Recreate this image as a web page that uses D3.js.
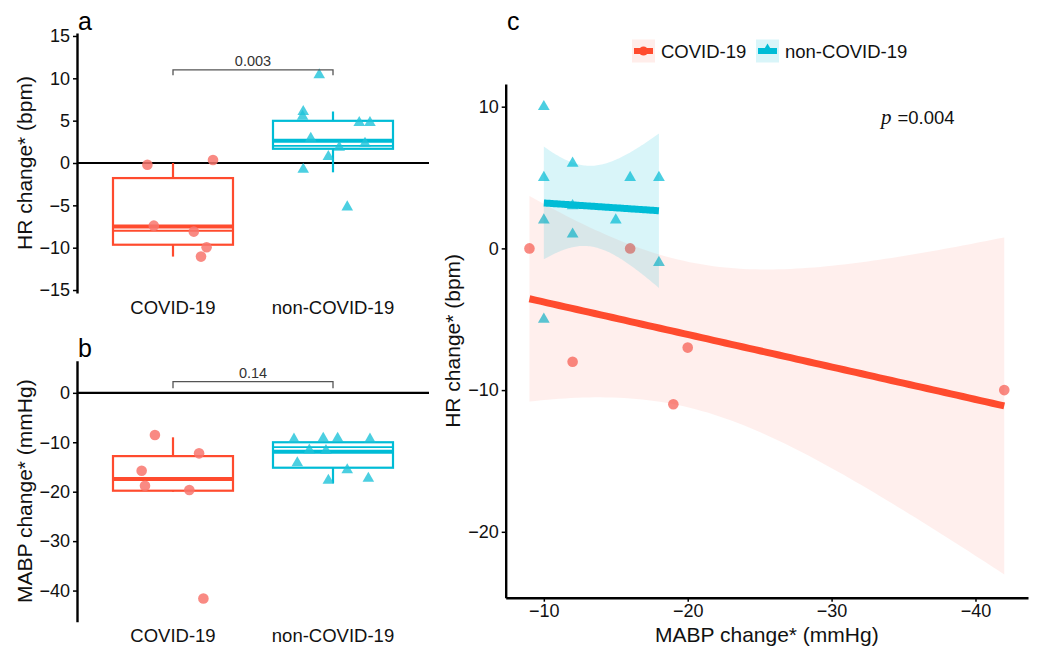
<!DOCTYPE html>
<html><head><meta charset="utf-8">
<script src="https://cdn.jsdelivr.net/npm/d3@7"></script>
<style>
body{margin:0;background:#fff;}
svg{display:block;font-family:"Liberation Sans",Arial,Helvetica,sans-serif;}
</style></head>
<body>
<svg id="chart" width="1038" height="648"></svg>
<script>
// ---------- DATA ----------
const groups = ["COVID-19", "non-COVID-19"];
// Panel a: HR change, jittered points (x offset within group, y value)
const hrCovidJit = [-0.16, 0.25, -0.12, 0.13, 0.21, 0.175];
const hrCovidVal = [-0.2, 0.35, -7.4, -8.1, -9.95, -11.05];
const hrNonJit = [-0.086, -0.186, -0.19, 0.164, 0.231, -0.139, 0.2, 0.039, -0.029, -0.186, 0.089];
const hrNonVal = [10.4, 6.06, 5.5, 4.76, 4.76, 2.9, 2.3, 1.85, 0.75, -0.75, -5.2];
// box stats [whiskerLow, q1, median, q3, whiskerHigh, extraLine]
const hrBoxCovid = [-11.05, -9.65, -7.5, -1.78, 0, -8.0];
const hrBoxNon = [-1.1, 1.68, 2.62, 4.98, 6.08, 2.03];
const hrP = "0.003";
const hrTicks = [15, 10, 5, 0, -5, -10, -15];
// Panel b: MABP change
const mabpCovidJit = [-0.113, 0.163, -0.196, -0.175, 0.102, 0.19];
const mabpCovidVal = [-8.54, -12.24, -15.76, -18.8, -19.66, -41.6];
const mabpNonJit = [-0.244, -0.061, 0.029, 0.231, -0.148, -0.044, -0.223, 0.089, -0.029, 0.221];
const mabpNonVal = [-9.4, -9.2, -9.2, -9.4, -11.6, -11.7, -14.2, -15.6, -17.7, -17.3];
const mabpBoxCovid = [-20.0, -19.8, -17.45, -12.8, -9.0, null];
const mabpBoxNon = [-18.3, -15.15, -11.9, -10.0, -10.0, -11.0];
const mabpP = "0.14";
const mabpTicks = [0, -10, -20, -30, -40];
// Panel c: scatter HR vs MABP
const cCovidMABP = [-9, -12, -16, -19, -20, -42];
const cCovidHR = [0, -8, 0, -11, -7, -10];
const cNonMABP = [-10, -12, -10, -16, -18, -12, -10, -15, -12, -18, -10];
const cNonHR = [10, 6, 5, 5, 5, 3, 2, 2, 1, -1, -5];
const cXTicks = [-10, -20, -30, -40];
const cYTicks = [10, 0, -10, -20];
const cP = "=0.004";

// ---------- STYLE ----------
const RED = "#FF4B2E", RED_PT = "#F8766D";
const CYAN = "#00BCD6", CYAN_PT = "#1EC3DA";
const FONT_TICK = 18, FONT_TITLE = 21, FONT_CAT = 18.5;

const svg = d3.select("#chart");

function triangle(size){ return d3.symbol().type(d3.symbolTriangle).size(size)(); }

function boxPanel(opts){
  const g = svg.append("g");
  const x = d3.scaleLinear().domain([0.4, 2.6]).range([77, 429]);
  const y = d3.scaleLinear().domain(opts.ydom).range(opts.yrange);
  g.append("line").attr("x1", x(0.4)).attr("x2", x(2.6)).attr("y1", y(0)).attr("y2", y(0))
    .attr("stroke", "#000").attr("stroke-width", 2.2);
  const boxes = [opts.boxCovid, opts.boxNon];
  const cols = [RED, CYAN];
  boxes.forEach((b, i) => {
    const cx = i + 1, hw = 0.375;
    const col = cols[i];
    g.append("line").attr("x1", x(cx)).attr("x2", x(cx)).attr("y1", y(b[3])).attr("y2", y(b[4]))
      .attr("stroke", col).attr("stroke-width", 2.2);
    g.append("line").attr("x1", x(cx)).attr("x2", x(cx)).attr("y1", y(b[1])).attr("y2", y(b[0]))
      .attr("stroke", col).attr("stroke-width", 2.2);
    g.append("rect").attr("x", x(cx - hw)).attr("width", x(cx + hw) - x(cx - hw))
      .attr("y", y(b[3])).attr("height", y(b[1]) - y(b[3]))
      .attr("fill", "none").attr("stroke", col).attr("stroke-width", 2.2);
    if (b[5] !== null) {
      g.append("line").attr("x1", x(cx - hw)).attr("x2", x(cx + hw)).attr("y1", y(b[5])).attr("y2", y(b[5]))
        .attr("stroke", col).attr("stroke-width", 1.8);
    }
    g.append("line").attr("x1", x(cx - hw)).attr("x2", x(cx + hw)).attr("y1", y(b[2])).attr("y2", y(b[2]))
      .attr("stroke", col).attr("stroke-width", 4);
  });
  opts.covidVal.forEach((v, i) => {
    g.append("circle").attr("cx", x(1 + opts.covidJit[i])).attr("cy", y(v)).attr("r", 5.3)
      .attr("fill", RED_PT).attr("fill-opacity", 0.85);
  });
  opts.nonVal.forEach((v, i) => {
    g.append("path").attr("d", triangle(58))
      .attr("transform", `translate(${x(2 + opts.nonJit[i])},${y(v)})`)
      .attr("fill", CYAN_PT).attr("fill-opacity", 0.8);
  });
  const bt = opts.bracket;
  g.append("path").attr("d", `M${x(1)},${y(bt[1])}V${y(bt[0])}H${x(2)}V${y(bt[1])}`)
    .attr("fill", "none").attr("stroke", "#555").attr("stroke-width", 1.3);
  g.append("text").attr("x", (x(1) + x(2)) / 2).attr("y", y(bt[0]) - 4)
    .attr("text-anchor", "middle").attr("font-size", 14.5).attr("fill", "#333").text(opts.p);
  const ax = g.append("g").attr("transform", "translate(77,0)")
    .call(d3.axisLeft(y).tickValues(opts.ticks).tickSize(4).tickSizeOuter(0).tickPadding(3));
  ax.select(".domain").attr("stroke-width", 2.4);
  ax.selectAll(".tick line").attr("stroke-width", 1.5);
  ax.selectAll(".tick text").attr("font-size", FONT_TICK).attr("fill", "#111")
    .attr("font-family", "Liberation Sans, Arial, sans-serif");
  groups.forEach((name, i) => {
    g.append("text").attr("x", x(i + 1)).attr("y", opts.catY).attr("text-anchor", "middle")
      .attr("font-size", FONT_CAT).attr("fill", "#111").text(name);
  });
  const my = (opts.yrange[0] + opts.yrange[1]) / 2;
  g.append("text").attr("transform", `translate(32,${my}) rotate(-90)`)
    .attr("text-anchor", "middle").attr("font-size", FONT_TITLE).attr("fill", "#111").text(opts.title);
  g.append("text").attr("x", 78).attr("y", opts.letterY).attr("font-size", 25).attr("fill", "#000").text(opts.letter);
}

boxPanel({
  ydom: [-15.35, 15.35], yrange: [293, 33],
  boxCovid: hrBoxCovid, boxNon: hrBoxNon,
  covidJit: hrCovidJit, covidVal: hrCovidVal, nonJit: hrNonJit, nonVal: hrNonVal,
  bracket: [11.0, 10.35], p: hrP, ticks: hrTicks, catY: 314,
  title: "HR change* (bpm)", letter: "a", letterY: 30
});
boxPanel({
  ydom: [-46.3, 6.5], yrange: [621.7, 360.7],
  boxCovid: mabpBoxCovid, boxNon: mabpBoxNon,
  covidJit: mabpCovidJit, covidVal: mabpCovidVal, nonJit: mabpNonJit, nonVal: mabpNonVal,
  bracket: [2.25, 0.95], p: mabpP, ticks: mabpTicks, catY: 642,
  title: "MABP change* (mmHg)", letter: "b", letterY: 357
});

// ---------- PANEL C ----------
const gc = svg.append("g");
const xc = d3.scaleLinear().domain([-7.35, -43.65]).range([505.7, 1028]);
const yc = d3.scaleLinear().domain([-24.65, 11.6]).range([597.7, 84]);
const tq = {4: 2.776, 5: 2.571, 6: 2.447, 7: 2.365, 8: 2.306, 9: 2.262, 10: 2.228, 11: 2.201, 12: 2.179};

function lmBand(xs, ys){
  const n = xs.length, mx = d3.mean(xs), my = d3.mean(ys);
  let sxx = 0, sxy = 0;
  xs.forEach((v, i) => { sxx += (v - mx) ** 2; sxy += (v - mx) * (ys[i] - my); });
  const b = sxy / sxx, a = my - b * mx;
  let sse = 0; xs.forEach((v, i) => { sse += (ys[i] - (a + b * v)) ** 2; });
  const s = Math.sqrt(sse / (n - 2)), t = tq[n - 2];
  const lo = d3.min(xs), hi = d3.max(xs);
  return d3.range(0, 81).map(k => {
    const xv = lo + (hi - lo) * k / 80;
    const fit = a + b * xv;
    const se = s * Math.sqrt(1 / n + (xv - mx) ** 2 / sxx);
    return {x: xv, fit, lo: fit - t * se, hi: fit + t * se};
  });
}

cCovidMABP.forEach((v, i) => {
  gc.append("circle").attr("cx", xc(v)).attr("cy", yc(cCovidHR[i])).attr("r", 5.3)
    .attr("fill", RED_PT).attr("fill-opacity", 0.85);
});
cNonMABP.forEach((v, i) => {
  gc.append("path").attr("d", triangle(60)).attr("transform", `translate(${xc(v)},${yc(cNonHR[i])})`)
    .attr("fill", CYAN_PT).attr("fill-opacity", 0.8);
});
[[cCovidMABP, cCovidHR, RED, 0.085], [cNonMABP, cNonHR, CYAN, 0.15]].forEach(([xs, ys, col, al]) => {
  const band = lmBand(xs, ys);
  gc.append("path").datum(band)
    .attr("d", d3.area().x(d => xc(d.x)).y0(d => yc(d.lo)).y1(d => yc(d.hi)))
    .attr("fill", col).attr("fill-opacity", al);
  gc.append("path").datum(band)
    .attr("d", d3.line().x(d => xc(d.x)).y(d => yc(d.fit)))
    .attr("fill", "none").attr("stroke", col).attr("stroke-width", 7);
});
const axc = gc.append("g").attr("transform", "translate(505.7,0)")
  .call(d3.axisLeft(yc).tickValues(cYTicks).tickSize(4).tickSizeOuter(0).tickPadding(3));
const axcx = gc.append("g").attr("transform", "translate(0,597.7)")
  .call(d3.axisBottom(xc).tickValues(cXTicks).tickSize(4).tickSizeOuter(0).tickPadding(3));
[axc, axcx].forEach(a => {
  a.select(".domain").attr("stroke-width", 2.4);
  a.selectAll(".tick line").attr("stroke-width", 1.5);
  a.selectAll(".tick text").attr("font-size", FONT_TICK).attr("fill", "#111")
    .attr("font-family", "Liberation Sans, Arial, sans-serif");
});
gc.append("text").attr("transform", `translate(460,${(84 + 597.7) / 2}) rotate(-90)`)
  .attr("text-anchor", "middle").attr("font-size", FONT_TITLE).attr("fill", "#111").text("HR change* (bpm)");
gc.append("text").attr("x", (505.7 + 1028) / 2).attr("y", 642).attr("text-anchor", "middle")
  .attr("font-size", FONT_TITLE).attr("fill", "#111").text("MABP change* (mmHg)");
gc.append("text").attr("x", 507).attr("y", 30).attr("font-size", 25).attr("fill", "#000").text("c");
const pt = gc.append("text").attr("x", 881).attr("y", 124).attr("font-size", 18.5).attr("fill", "#111");
pt.append("tspan").attr("font-family", "Liberation Serif, Times New Roman, serif").attr("font-style", "italic")
  .attr("font-size", 21).text("p");
pt.append("tspan").attr("dx", 6).text(cP);
const leg = gc.append("g");
const legItems = [{name: groups[0], col: RED, x: 632, tx: 661, al: 0.1, sym: "c"},
                  {name: groups[1], col: CYAN, x: 756, tx: 785, al: 0.15, sym: "t"}];
legItems.forEach(it => {
  leg.append("rect").attr("x", it.x).attr("y", 39.5).attr("width", 23).attr("height", 23)
    .attr("fill", it.col).attr("fill-opacity", it.al);
  leg.append("line").attr("x1", it.x + 2).attr("x2", it.x + 21).attr("y1", 51).attr("y2", 51)
    .attr("stroke", it.col).attr("stroke-width", 6);
  if (it.sym === "c") {
    leg.append("circle").attr("cx", it.x + 11.5).attr("cy", 51).attr("r", 4.5).attr("fill", it.col);
  } else {
    leg.append("path").attr("d", triangle(40)).attr("transform", `translate(${it.x + 11.5},${49})`).attr("fill", it.col);
  }
  leg.append("text").attr("x", it.tx).attr("y", 58).attr("font-size", FONT_CAT).attr("fill", "#111").text(it.name);
});
</script>
</body></html>
